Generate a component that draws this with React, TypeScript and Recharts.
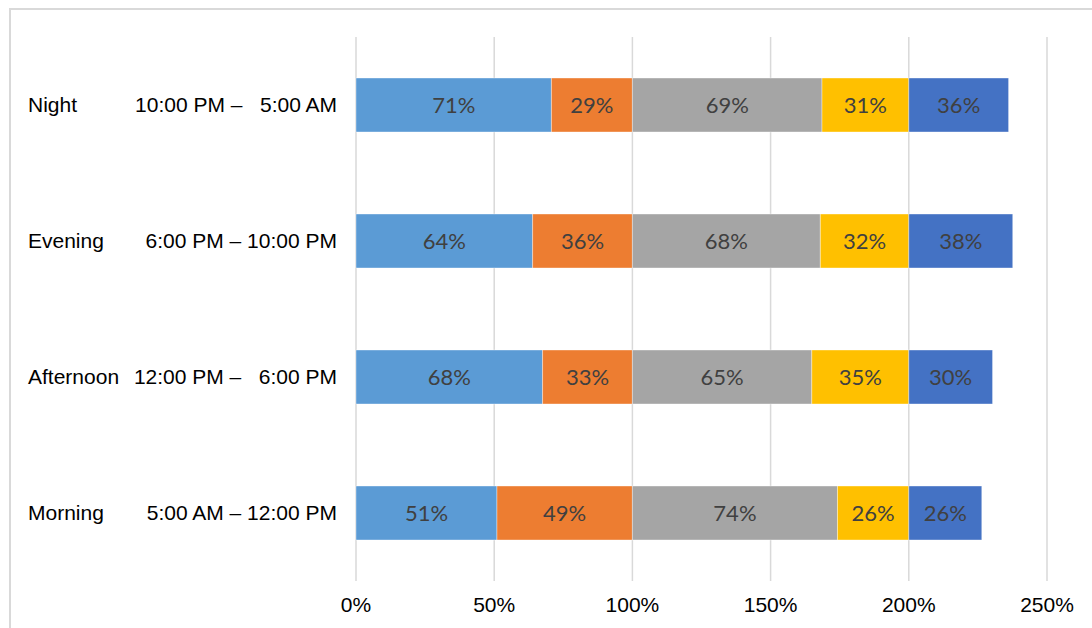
import React from 'react';
import {
  BarChart,
  Bar,
  XAxis,
  YAxis,
  CartesianGrid,
  LabelList,
} from 'recharts';

// Day parts, top to bottom
const periods = ['Night', 'Evening', 'Afternoon', 'Morning'];
const timeRanges = [
  '10:00 PM –   5:00 AM',
  '6:00 PM – 10:00 PM',
  '12:00 PM –   6:00 PM',
  '5:00 AM – 12:00 PM',
];

// Five stacked segments per day part (percent)
const seriesA = [70.7, 63.9, 67.5, 51.0];
const seriesB = [29.3, 36.1, 32.5, 49.0];
const seriesC = [68.6, 68.0, 64.9, 74.2];
const seriesD = [31.4, 32.0, 35.1, 25.8];
const seriesE = [36.1, 37.6, 30.3, 26.4];

const xTicks = [0, 50, 100, 150, 200, 250];

const colors = ['#5B9BD5', '#ED7D31', '#A5A5A5', '#FFC000', '#4472C4'];

const data = periods.map((period, i) => ({
  period,
  a: seriesA[i],
  b: seriesB[i],
  c: seriesC[i],
  d: seriesD[i],
  e: seriesE[i],
}));

const axisFont = '"Liberation Sans", Arial, sans-serif';
const labelFont = 'Lato, "Open Sans", sans-serif';

const PeriodTick = (props: any) => {
  const { y, payload } = props;
  const idx = periods.indexOf(payload.value);
  return (
    <g>
      <text x={28} y={y} dy="0.35em" textAnchor="start" fill="#000" fontSize={21} fontFamily={axisFont}>
        {payload.value}
      </text>
      <text
        x={337}
        y={y}
        dy="0.35em"
        textAnchor="end"
        fill="#000"
        fontSize={21}
        fontFamily={axisFont}
        style={{ whiteSpace: 'pre' }}
      >
        {timeRanges[idx]}
      </text>
    </g>
  );
};

const PercentTick = (props: any) => {
  const { x, y, payload } = props;
  return (
    <text x={x} y={y} dy="0.71em" textAnchor="middle" fill="#000" fontSize={21} fontFamily={axisFont}>
      {payload.value}%
    </text>
  );
};

const fmt = (v: any) => `${Math.round(Number(v))}%`;

const App: React.FC = () => {
  const keys = ['a', 'b', 'c', 'd', 'e'];
  return (
    <div
      style={{
        position: 'fixed',
        left: 0,
        top: 0,
        width: 1092,
        height: 628,
        overflow: 'hidden',
        background: '#fff',
      }}
    >
      <div
        style={{
          position: 'absolute',
          left: 9,
          top: 8,
          width: 1200,
          height: 800,
          border: '2px solid #D9D9D9',
        }}
      />
      <div style={{ position: 'absolute', left: 0, top: 0 }}>
        <BarChart
          width={1092}
          height={628}
          data={data}
          layout="vertical"
          barSize={54}
          margin={{ top: 37, right: 45, bottom: 0, left: 0 }}
        >
          <CartesianGrid vertical horizontal={false} stroke="#D9D9D9" strokeWidth={1.5} />
          <XAxis
            type="number"
            domain={[0, 250]}
            ticks={xTicks}
            axisLine={false}
            tickLine={false}
            tickSize={0}
            tickMargin={16}
            height={47}
            tick={<PercentTick />}
            interval={0}
          />
          <YAxis
            type="category"
            dataKey="period"
            width={356}
            axisLine={false}
            tickLine={false}
            tick={<PeriodTick />}
            interval={0}
          />
          {keys.map((k, i) => (
            <Bar
              key={k}
              dataKey={k}
              stackId="s"
              fill={colors[i]}
              stroke="#ffffff"
              strokeOpacity={0.5}
              strokeWidth={0.75}
              isAnimationActive={false}
            >
              <LabelList
                dataKey={k}
                position="center"
                formatter={fmt}
                fill="#404040"
                fontSize={22}
                fontFamily={labelFont}
              />
            </Bar>
          ))}
        </BarChart>
      </div>
    </div>
  );
};

export default App;
